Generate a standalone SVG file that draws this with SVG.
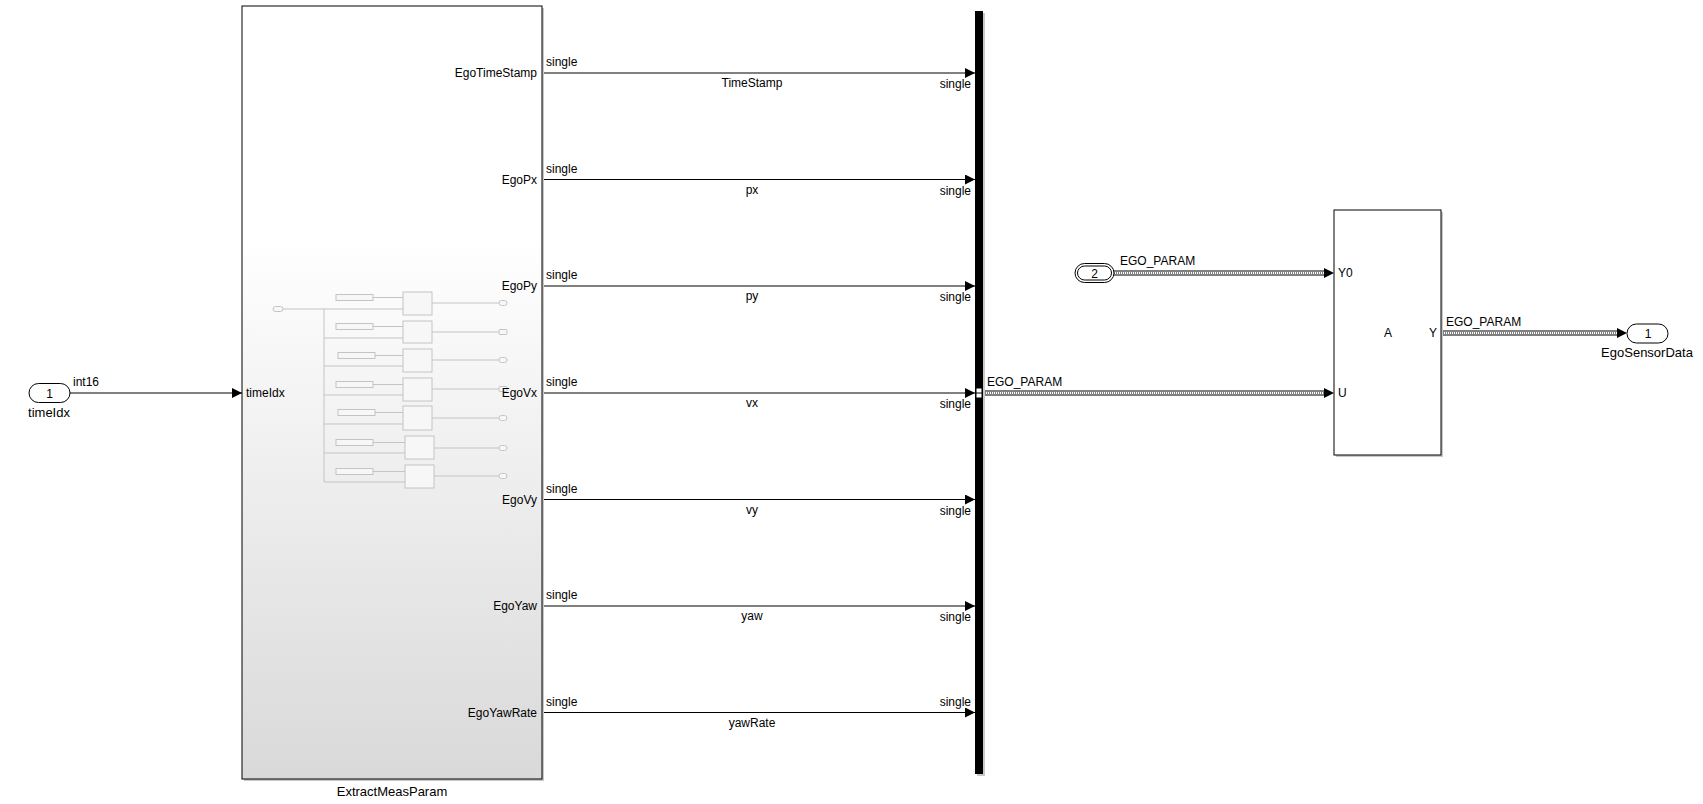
<svg xmlns="http://www.w3.org/2000/svg" width="1703" height="804" viewBox="0 0 1703 804">
<style>
text{font-family:"Liberation Sans",Arial,sans-serif;font-size:12px;fill:#000}
.nm{font-size:13px}
.sig{fill:none;stroke:#000;stroke-width:1}
.r{text-anchor:end}
.m{text-anchor:middle}
.mini{fill:none;stroke:#c4c4c4;stroke-width:1}
.minib{fill:#f7f7f7;stroke:#c4c4c4;stroke-width:1}
.shadow{fill:#c8c8c8}
</style>
<defs>
<linearGradient id="sg" x1="0" y1="0" x2="0" y2="1">
<stop offset="0.3" stop-color="#ffffff"/>
<stop offset="1" stop-color="#d9d9d9"/>
</linearGradient>
<marker id="ar" markerWidth="10" markerHeight="10" refX="10" refY="5" orient="auto" markerUnits="userSpaceOnUse">
<path d="M0,0 L10,5 L0,10 Z" fill="#000"/>
</marker>
</defs>

<g id="connectors">
<line class="sig" x1="70" y1="393" x2="242" y2="393" marker-end="url(#ar)"/>
<line class="sig" x1="542" y1="73" x2="975" y2="73" marker-end="url(#ar)"/>
<line class="sig" x1="542" y1="179.5" x2="975" y2="179.5" marker-end="url(#ar)"/>
<line class="sig" x1="542" y1="286" x2="975" y2="286" marker-end="url(#ar)"/>
<line class="sig" x1="542" y1="393" x2="975" y2="393" marker-end="url(#ar)"/>
<line class="sig" x1="542" y1="499.5" x2="975" y2="499.5" marker-end="url(#ar)"/>
<line class="sig" x1="542" y1="606" x2="975" y2="606" marker-end="url(#ar)"/>
<line class="sig" x1="542" y1="712.5" x2="975" y2="712.5" marker-end="url(#ar)"/>
<g id="bus1">
<line x1="983" y1="393" x2="1326" y2="393" stroke="#000" stroke-width="5"/>
<line x1="983" y1="393" x2="1326" y2="393" stroke="#fff" stroke-width="3"/>
<line x1="983" y1="393" x2="1326" y2="393" stroke="#000" stroke-width="1" stroke-dasharray="1,1"/>
<path d="M1324,388 L1334,393 L1324,398 Z" fill="#000"/>
</g>
<g id="bus2">
<line x1="1114" y1="273" x2="1326" y2="273" stroke="#000" stroke-width="5"/>
<line x1="1114" y1="273" x2="1326" y2="273" stroke="#fff" stroke-width="3"/>
<line x1="1114" y1="273" x2="1326" y2="273" stroke="#000" stroke-width="1" stroke-dasharray="1,1"/>
<path d="M1324,268 L1334,273 L1324,278 Z" fill="#000"/>
</g>
<g id="bus3">
<line x1="1441" y1="333" x2="1619" y2="333" stroke="#000" stroke-width="5"/>
<line x1="1441" y1="333" x2="1619" y2="333" stroke="#fff" stroke-width="3"/>
<line x1="1441" y1="333" x2="1619" y2="333" stroke="#000" stroke-width="1" stroke-dasharray="1,1"/>
<path d="M1617,328 L1627,333 L1617,338 Z" fill="#000"/>
</g>
<text x="73" y="386">int16</text>
<text x="546" y="66">single</text>
<text x="546" y="172.5">single</text>
<text x="546" y="279">single</text>
<text x="546" y="386">single</text>
<text x="546" y="492.5">single</text>
<text x="546" y="599">single</text>
<text x="546" y="705.5">single</text>
<text class="m" x="752" y="87">TimeStamp</text>
<text class="m" x="752" y="193.5">px</text>
<text class="m" x="752" y="300">py</text>
<text class="m" x="752" y="407">vx</text>
<text class="m" x="752" y="513.5">vy</text>
<text class="m" x="752" y="620">yaw</text>
<text class="m" x="752" y="726.5">yawRate</text>
<text class="r" x="971" y="88">single</text>
<text class="r" x="971" y="194.5">single</text>
<text class="r" x="971" y="301">single</text>
<text class="r" x="971" y="408">single</text>
<text class="r" x="971" y="514.5">single</text>
<text class="r" x="971" y="621">single</text>
<text class="r" x="971" y="705.5">single</text>
<text x="987" y="386">EGO_PARAM</text>
<text x="1120" y="265">EGO_PARAM</text>
<text x="1446" y="326">EGO_PARAM</text>
</g>

<g id="inport1">
<rect x="29" y="383.5" width="41" height="19" rx="9.5" fill="#fff" stroke="#000" stroke-width="1"/>
<text class="m" x="49.5" y="397.5">1</text>
<text class="m nm" x="49" y="417">timeIdx</text>
</g>

<g id="ExtractMeasParam">
<rect x="244" y="8" width="300" height="773" class="shadow"/>
<rect x="242" y="6" width="300" height="773" fill="url(#sg)" stroke="#000" stroke-width="1"/>
<g id="mini">
<rect x="273" y="306.5" width="10" height="5" rx="2.5" class="minib"/>
<line class="mini" x1="283" y1="309" x2="324" y2="309"/>
<line class="mini" x1="324" y1="309" x2="324" y2="482"/>
<line class="mini" x1="324" y1="309" x2="403" y2="309"/>
<line class="mini" x1="324" y1="338" x2="403" y2="338"/>
<line class="mini" x1="324" y1="366" x2="403" y2="366"/>
<line class="mini" x1="324" y1="395" x2="403" y2="395"/>
<line class="mini" x1="324" y1="424" x2="403" y2="424"/>
<line class="mini" x1="324" y1="453" x2="405" y2="453"/>
<line class="mini" x1="324" y1="482" x2="405" y2="482"/>
<rect x="336" y="294.5" width="37" height="6" class="minib"/>
<rect x="336" y="323.5" width="37" height="6" class="minib"/>
<rect x="338" y="352.5" width="37" height="6" class="minib"/>
<rect x="336" y="381.5" width="37" height="6" class="minib"/>
<rect x="338" y="409.5" width="37" height="6" class="minib"/>
<rect x="336" y="439.5" width="37" height="6" class="minib"/>
<rect x="336" y="468.5" width="37" height="6" class="minib"/>
<line class="mini" x1="373" y1="297.5" x2="403" y2="297.5"/>
<line class="mini" x1="373" y1="326.5" x2="403" y2="326.5"/>
<line class="mini" x1="375" y1="355.5" x2="403" y2="355.5"/>
<line class="mini" x1="373" y1="384.5" x2="403" y2="384.5"/>
<line class="mini" x1="375" y1="412.5" x2="403" y2="412.5"/>
<line class="mini" x1="373" y1="442.5" x2="405" y2="442.5"/>
<line class="mini" x1="373" y1="471.5" x2="405" y2="471.5"/>
<rect x="403" y="292" width="29" height="23" class="minib"/>
<rect x="403" y="321" width="29" height="22" class="minib"/>
<rect x="403" y="349" width="29" height="23" class="minib"/>
<rect x="403" y="378" width="29" height="23" class="minib"/>
<rect x="403" y="406" width="29" height="24" class="minib"/>
<rect x="405" y="436" width="29" height="23" class="minib"/>
<rect x="405" y="465" width="29" height="23" class="minib"/>
<line class="mini" x1="432" y1="303" x2="499" y2="303"/>
<line class="mini" x1="432" y1="332" x2="499" y2="332"/>
<line class="mini" x1="432" y1="360" x2="499" y2="360"/>
<line class="mini" x1="432" y1="389" x2="499" y2="389"/>
<line class="mini" x1="432" y1="418" x2="499" y2="418"/>
<line class="mini" x1="434" y1="448" x2="499" y2="448"/>
<line class="mini" x1="434" y1="476" x2="499" y2="476"/>
<rect x="499" y="300.5" width="8" height="5" rx="2.5" class="minib"/>
<rect x="499" y="329.5" width="8" height="5" rx="1" class="minib"/>
<rect x="499" y="357.5" width="8" height="5" rx="2.5" class="minib"/>
<rect x="499" y="386.5" width="8" height="5" rx="1" class="minib"/>
<rect x="499" y="415.5" width="8" height="5" rx="2.5" class="minib"/>
<rect x="499" y="445.5" width="8" height="5" rx="2.5" class="minib"/>
<rect x="499" y="473.5" width="8" height="5" rx="2.5" class="minib"/>
</g>
<text x="246" y="397">timeIdx</text>
<text class="r" x="537" y="77">EgoTimeStamp</text>
<text class="r" x="537" y="183.5">EgoPx</text>
<text class="r" x="537" y="290">EgoPy</text>
<text class="r" x="537" y="397">EgoVx</text>
<text class="r" x="537" y="503.5">EgoVy</text>
<text class="r" x="537" y="610">EgoYaw</text>
<text class="r" x="537" y="716.5">EgoYawRate</text>
<text class="m nm" x="392" y="796">ExtractMeasParam</text>
</g>

<g id="busCreator">
<rect x="977" y="13" width="8" height="763" class="shadow"/>
<rect x="975" y="11" width="8" height="763" fill="#000"/>
<rect x="976" y="388" width="6" height="10" fill="#fff" stroke="#000" stroke-width="1"/>
<line x1="976" y1="393" x2="982" y2="393" stroke="#000" stroke-width="1"/>
</g>

<g id="inport2">
<rect x="1075" y="263.5" width="39" height="19" rx="9.5" fill="#fff" stroke="#000" stroke-width="1"/>
<rect x="1077.5" y="266" width="34" height="14" rx="7" fill="none" stroke="#000" stroke-width="1"/>
<text class="m" x="1094.5" y="277.5">2</text>
</g>

<g id="blockA">
<rect x="1336" y="212" width="107" height="245" class="shadow"/>
<rect x="1334" y="210" width="107" height="245" fill="#fff" stroke="#000" stroke-width="1"/>
<text x="1338" y="277">Y0</text>
<text x="1338" y="397">U</text>
<text class="r" x="1437" y="337">Y</text>
<text class="m" x="1388" y="337">A</text>
</g>

<g id="outport1">
<rect x="1627" y="324" width="41" height="19" rx="9.5" fill="#fff" stroke="#000" stroke-width="1"/>
<text class="m" x="1648" y="338">1</text>
<text class="m nm" x="1647" y="357">EgoSensorData</text>
</g>
</svg>
